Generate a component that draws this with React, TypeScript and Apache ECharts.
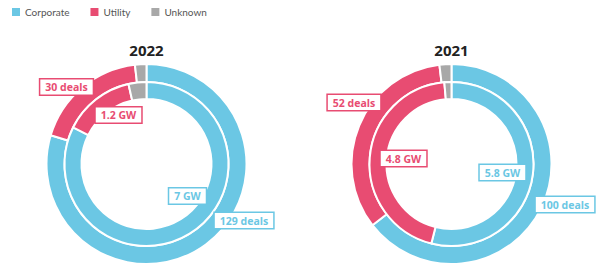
import React, { useEffect, useRef } from "react";
import * as echarts from "echarts";

const categories = ["Corporate", "Utility", "Unknown"];
const years = ["2022", "2021"];
const deals2022 = [129, 30, 3];
const gw2022 = [7, 1.2, 0.3];
const deals2021 = [100, 52, 3];
const gw2021 = [5.8, 4.8, 0.15];

const COLORS = ["#6BC7E4", "#E84C72", "#A8A8A8"];
const CENTERS: [number, number][] = [
  [146.5, 164],
  [451.5, 164],
];
// label offsets relative to pie center: [outer labels, inner labels] per chart
const LABEL_OFFSETS: Record<string, [number, number][]> = {
  "2022-outer": [[97.5, 56.5], [-80, -77]],
  "2022-inner": [[41, 32], [-28, -49]],
  "2021-outer": [[113.5, 40.5], [-97.5, -61.5]],
  "2021-inner": [[51, 8.5], [-48, -5.5]],
};

function makeSeries(
  year: string,
  ring: "outer" | "inner",
  values: number[],
  unit: string,
  center: [number, number]
) {
  const offs = LABEL_OFFSETS[`${year}-${ring}`];
  return {
    type: "pie",
    name: `${year} ${ring}`,
    center,
    radius: ring === "outer" ? [82, 100] : [65, 82],
    startAngle: 90,
    clockwise: true,
    avoidLabelOverlap: false,
    silent: true,
    itemStyle: { borderColor: "#ffffff", borderWidth: 2 },
    labelLine: { show: false },
    emphasis: { disabled: true },
    labelLayout: (p: any) => {
      const o = offs[p.dataIndex];
      if (!o) return {};
      return {
        x: center[0] + o[0],
        y: center[1] + o[1],
        align: "center",
        verticalAlign: "middle",
      };
    },
    data: categories.map((name, i) => ({
      name,
      value: values[i],
      itemStyle: { color: COLORS[i] },
      label: {
        show: i < 2,
        position: "inside",
        formatter: `${values[i]} ${unit}`,
        color: COLORS[i],
        fontFamily: "Open Sans",
        fontWeight: "bold",
        fontSize: 10.5,
        backgroundColor: "#ffffff",
        borderColor: COLORS[i],
        borderWidth: 1.5,
        padding: [2, 5, 1, 5],
        lineHeight: 12,
      },
    })),
  };
}

export default function App() {
  const ref = useRef<HTMLDivElement>(null);
  useEffect(() => {
    if (!ref.current) return;
    const chart = echarts.init(ref.current, undefined, { renderer: "svg" });
    chart.setOption({
      animation: false,
      color: COLORS,
      legend: {
        data: categories,
        left: 10,
        top: 6,
        padding: 0,
        icon: "rect",
        itemWidth: 10,
        itemHeight: 10,
        itemGap: 19,
        selectedMode: false,
        textStyle: {
          fontFamily: "Lato",
          fontSize: 10,
          color: "#555555",
          padding: [0, 0, 0, -1],
        },
      },
      title: years.map((y, i) => ({
        text: y,
        left: CENTERS[i][0],
        top: 42,
        padding: 0,
        textAlign: "center",
        textStyle: {
          fontFamily: "Open Sans",
          fontSize: 15,
          fontWeight: "bold",
          color: "#222222",
        },
      })),
      series: [
        makeSeries(years[0], "outer", deals2022, "deals", CENTERS[0]),
        makeSeries(years[0], "inner", gw2022, "GW", CENTERS[0]),
        makeSeries(years[1], "outer", deals2021, "deals", CENTERS[1]),
        makeSeries(years[1], "inner", gw2021, "GW", CENTERS[1]),
      ],
    });
    return () => chart.dispose();
  }, []);
  return (
    <div
      ref={ref}
      style={{ position: "absolute", left: 0, top: 0, width: 602, height: 274, background: "#fff" }}
    />
  );
}
